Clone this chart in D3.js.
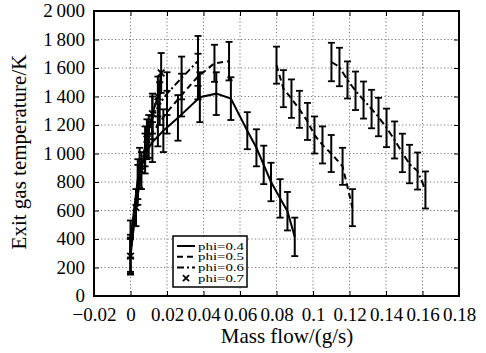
<!DOCTYPE html>
<html>
<head>
<meta charset="utf-8">
<script src="https://cdn.jsdelivr.net/npm/d3@7"></script>
<style>
  body { margin: 0; background: #fff; }
</style>
</head>
<body>
<div id="chart"></div>
<script>
// data (null = no value, breaks the line)
const xTicks = [-0.02, 0, 0.02, 0.04, 0.06, 0.08, 0.1, 0.12, 0.14, 0.16, 0.18];
const yTicks = [0, 200, 400, 600, 800, 1000, 1200, 1400, 1600, 1800, 2000];

const phi04X = [0, 0.004, 0.008, 0.012, 0.018, 0.026, 0.038, 0.047, 0.055, 0.064, 0.069, 0.073, 0.077, 0.082, 0.086, 0.090];
const phi04Y = [400, 820, 1000, 1080, 1160, 1250, 1395, 1420, 1385, 1160, 1040, 920, 800, 685, 595, 415];
const phi04E = [130, 140, 140, 140, 150, 160, 175, 150, 150, 130, 130, 135, 135, 135, 135, 135];

const phi05X = [0, 0.005, 0.01, 0.015, 0.02, 0.028, 0.037, 0.046, 0.054, 0.067, 0.080, 0.0838, 0.0882, 0.0926, 0.097, 0.1008, 0.1052, 0.110, 0.1162, 0.1216];
const phi05Y = [300, 900, 1120, 1200, 1290, 1410, 1540, 1633, 1648, null, 1620, 1455, 1385, 1310, 1225, 1130, 1060, 1000, 910, 620];
const phi05E = [130, 140, 150, 150, 150, 150, 160, 130, 135, 0, 130, 130, 135, 130, 130, 130, 130, 130, 130, 130];

const phi06X = [0, 0.004, 0.008, 0.012, 0.016, 0.02, 0.028, 0.037, 0.07, 0.1101, 0.1145, 0.1189, 0.1233, 0.1277, 0.1321, 0.1359, 0.1403, 0.1447, 0.149, 0.1529, 0.1573, 0.1616];
const phi06Y = [280, 780, 1050, 1250, 1350, 1420, 1530, 1650, null, 1642, 1607, 1516, 1440, 1375, 1312, 1256, 1180, 1095, 1004, 926, 877, 744];
const phi06E = [130, 140, 140, 150, 150, 150, 150, 175, 0, 135, 135, 130, 135, 130, 135, 135, 135, 130, 135, 135, 130, 130];

const phi07X = [0, 0.003, 0.006, 0.009, 0.012, 0.015, 0.0168];
const phi07Y = [280, 620, 880, 1100, 1280, 1400, 1565];
const phi07E = [120, 130, 130, 140, 140, 140, 140];

const legendLabels = ["phi=0.4", "phi=0.5", "phi=0.6", "phi=0.7"];

const serif = "Liberation Serif";

// layout
const W = 486, H = 353;
const margin = { top: 11, right: 27, bottom: 57, left: 94 };
const width = W - margin.left - margin.right;
const height = H - margin.top - margin.bottom;

const svg = d3.select("#chart").append("svg")
  .attr("width", W)
  .attr("height", H)
  .attr("font-family", serif);

svg.append("rect").attr("width", W).attr("height", H).attr("fill", "#fff");

const g = svg.append("g")
  .attr("transform", `translate(${margin.left},${margin.top})`);

const x = d3.scaleLinear().domain([-0.02, 0.18]).range([0, width]);
const y = d3.scaleLinear().domain([0, 2000]).range([height, 0]);

// dotted grid
g.append("g").selectAll("line").data(xTicks.slice(1, -1)).enter().append("line")
  .attr("x1", d => x(d)).attr("x2", d => x(d))
  .attr("y1", 0).attr("y2", height)
  .attr("stroke", "#777").attr("stroke-width", 1).attr("stroke-dasharray", "1.2,2.3");
g.append("g").selectAll("line").data(yTicks.slice(1, -1)).enter().append("line")
  .attr("y1", d => y(d)).attr("y2", d => y(d))
  .attr("x1", 0).attr("x2", width)
  .attr("stroke", "#777").attr("stroke-width", 1).attr("stroke-dasharray", "1.2,2.3");

// axes
const fmtY = d => d >= 1000 ? Math.floor(d / 1000) + "\u2009" + d3.format("03d")(d % 1000) : String(d);
const fmtX = d => d < 0 ? "\u2212" + String(-d) : String(d);

const xAxis = g.append("g")
  .attr("transform", `translate(0,${height})`)
  .call(d3.axisBottom(x).tickValues(xTicks).tickFormat(fmtX).tickSizeInner(-5).tickSizeOuter(0).tickPadding(12))
  .attr("font-family", serif).attr("font-size", 19);
const yAxis = g.append("g")
  .call(d3.axisLeft(y).tickValues(yTicks).tickFormat(fmtY).tickSizeInner(-5).tickSizeOuter(0).tickPadding(9))
  .attr("font-family", serif).attr("font-size", 19);
// ticks on top and right
g.append("g")
  .call(d3.axisTop(x).tickValues(xTicks).tickFormat("").tickSizeInner(-5).tickSizeOuter(0));
g.append("g")
  .attr("transform", `translate(${width},0)`)
  .call(d3.axisRight(y).tickValues(yTicks).tickFormat("").tickSizeInner(-5).tickSizeOuter(0));

g.selectAll(".domain").remove();
g.selectAll(".tick line").attr("stroke", "#000").attr("stroke-width", 1);
xAxis.selectAll("text").attr("fill", "#000");
yAxis.selectAll("text").attr("fill", "#000").attr("dy", "0.3em");

// frame
g.append("rect")
  .attr("width", width).attr("height", height)
  .attr("fill", "none").attr("stroke", "#000").attr("stroke-width", 2);

// axis titles
svg.append("text")
  .attr("x", 287).attr("y", 343)
  .attr("text-anchor", "middle")
  .attr("font-size", 21)
  .text("Mass flow/(g/s)");
svg.append("text")
  .attr("transform", "translate(26,152) rotate(-90)")
  .attr("text-anchor", "middle")
  .attr("font-size", 21)
  .text("Exit gas temperature/K");

// series
const series = [
  { xs: phi04X, ys: phi04Y, es: phi04E, dash: null, marker: false },
  { xs: phi05X, ys: phi05Y, es: phi05E, dash: "6,4", marker: false },
  { xs: phi06X, ys: phi06Y, es: phi06E, dash: "7,3,2,3", marker: false },
  { xs: phi07X, ys: phi07Y, es: phi07E, dash: null, marker: true }
];

const line = d3.line()
  .defined(d => d.v !== null)
  .x(d => x(d.m))
  .y(d => y(d.v));

series.forEach(s => {
  const pts = s.xs.map((m, i) => ({ m: m, v: s.ys[i], e: s.es[i] }));
  const valid = pts.filter(d => d.v !== null);

  // error bars
  const eb = g.append("g");
  eb.selectAll(".bar").data(valid).enter().append("line")
    .attr("x1", d => x(d.m)).attr("x2", d => x(d.m))
    .attr("y1", d => y(d.v - d.e)).attr("y2", d => y(d.v + d.e))
    .attr("stroke", "#000").attr("stroke-width", 2);
  eb.selectAll(".capT").data(valid).enter().append("line")
    .attr("x1", d => x(d.m) - 3.5).attr("x2", d => x(d.m) + 3.5)
    .attr("y1", d => y(d.v + d.e)).attr("y2", d => y(d.v + d.e))
    .attr("stroke", "#000").attr("stroke-width", 1.8);
  eb.selectAll(".capB").data(valid).enter().append("line")
    .attr("x1", d => x(d.m) - 3.5).attr("x2", d => x(d.m) + 3.5)
    .attr("y1", d => y(d.v - d.e)).attr("y2", d => y(d.v - d.e))
    .attr("stroke", "#000").attr("stroke-width", 1.8);

  g.append("path")
    .datum(pts)
    .attr("fill", "none")
    .attr("stroke", "#000")
    .attr("stroke-width", 2)
    .attr("stroke-dasharray", s.dash)
    .attr("d", line);

  if (s.marker) {
    g.append("g").selectAll("path").data(valid).enter().append("path")
      .attr("d", d3.symbol(d3.symbolX, 30))
      .attr("transform", d => `translate(${x(d.m)},${y(d.v)})`)
      .attr("fill", "none").attr("stroke", "#000").attr("stroke-width", 1.8);
  }
});

// legend
const lg = svg.append("g").attr("transform", "translate(173,236)");
lg.append("rect")
  .attr("width", 74).attr("height", 51)
  .attr("fill", "#fff").attr("stroke", "#000").attr("stroke-width", 1.5);
legendLabels.forEach((lab, i) => {
  const yy = 10 + i * 10.7;
  const s = series[i];
  if (s.marker) {
    lg.append("path")
      .attr("d", d3.symbol(d3.symbolX, 26))
      .attr("transform", `translate(13,${yy})`)
      .attr("fill", "none").attr("stroke", "#000").attr("stroke-width", 1.8);
  } else {
    lg.append("line")
      .attr("x1", 4).attr("x2", 22).attr("y1", yy).attr("y2", yy)
      .attr("stroke", "#000").attr("stroke-width", 2)
      .attr("stroke-dasharray", s.dash);
  }
  lg.append("text")
    .attr("x", 25).attr("y", yy + 3.5)
    .attr("textLength", 46)
    .attr("lengthAdjust", "spacingAndGlyphs")
    .attr("font-size", 10)
    .text(lab);
});
</script>
</body>
</html>
